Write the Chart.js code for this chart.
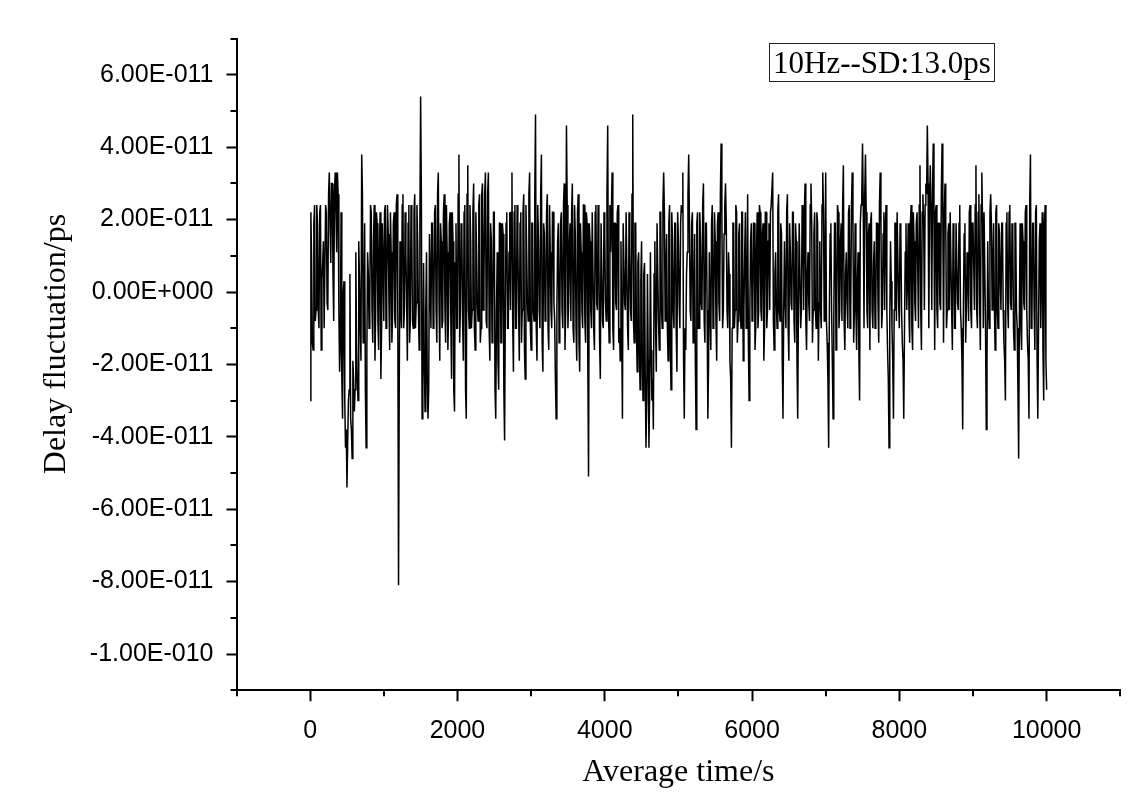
<!DOCTYPE html>
<html lang="en">
  <head>
    <meta charset="UTF-8" />
    <title>Delay fluctuation</title>
    <script src="https://cdn.jsdelivr.net/npm/chart.js@4.4.1/dist/chart.umd.min.js"></script>
    <style>
      body { margin: 0; background: #fff; }
      #chart { display: block; }
    </style>
  </head>
  <body>
    <canvas id="chart" width="1138" height="794"></canvas>

    <script>
      // samples every 10 s, values in ps (axis shows them in seconds)
      // delayPsA: t = 0, 20, 40 ... 10000   delayPsB: t = 10, 30, 50 ... 9990
      const sampleStep = 20;
      const delayPsA = [
        -30, 8, -16, 24, -5, 19, -10, 24, 3, 14,
        -10, 22, -5, 33, 8, 30, -8, 33, 11, 27,
        -22, 22, -35, 3, -43, -54, -30, 5, -38, -19,
        -33, 11, -24, 14, -10, 38, -14, 19, -43, 11,
        -10, 24, -5, 14, -19, 22, -8, 11, -24, 19,
        -8, 24, 3, 16, -16, 11, -5, 22, -10, 27,
        -81, 14, -10, 27, -5, 11, -19, 24, -8, 16,
        -10, 27, -3, 14, -16, 54, -35, 8, -33, 11,
        -35, 16, -10, 19, -5, 24, -14, 33, -19, 14,
        -8, 27, -14, 11, -5, 22, -24, 14, -33, 19,
        -10, 38, -5, 16, -19, 24, -35, 35, -10, 14,
        -5, 30, -16, 11, -8, 27, -10, 30, 3, 33,
        -10, 33, -19, 14, -5, 22, -35, 11, -27, 19,
        -14, 16, -41, 19, -10, 11, -5, 33, -22, 24,
        -10, 14, -19, 22, -5, 27, -24, 11, -8, 33,
        -16, 19, -8, 49, -19, 14, -10, 38, -22, 16,
        -5, 27, -16, 11, -10, 22, -8, -35, 14, -14,
        19, -5, 24, -16, 46, -10, 14, -8, 30, -14,
        16, -19, 27, -22, 11, -10, 24, -14, 19, -51,
        14, -10, 22, -16, 24, -5, 11, -24, 19, -10,
        16, -8, 46, -14, 11, 33, -16, 19, -5, 24,
        -10, 14, -35, 19, -5, 22, -16, 11, -8, 49,
        -14, 19, -22, 11, -27, 14, -30, 8, -43, 5,
        -43, 11, -30, -38, 14, -22, 19, -16, 22, -10,
        33, -8, 16, -19, 24, -27, 14, -10, 19, -22,
        14, -10, 24, 33, -35, -16, 11, 38, -5, 19,
        -14, 16, -38, 22, -10, 14, -5, 30, -14, 19,
        -35, 11, -16, 24, -5, 14, -19, 22, -8, 41,
        -10, 16, 30, -5, 11, -19, -43, 19, -10, 24,
        -14, 16, -5, 22, -19, 11, -10, 27, -30, 14,
        -8, 19, -16, 11, -10, 24, -5, 16, -19, 22,
        -10, 14, -5, 24, 33, -16, 11, -10, 27, -8,
        16, -35, 14, -10, 27, -19, 11, -5, 22, -14,
        14, -35, 19, -10, 24, -5, 30, -16, 11, -8,
        30, -14, 16, -5, 22, -19, 14, -10, 33, -8,
        33, -14, -43, 16, -5, -35, 19, -16, 24, -10,
        14, -8, 35, -16, 11, -10, 24, -5, 33, -14,
        19, -16, 11, -30, 24, 41, -10, 38, -5, 16,
        -16, 22, -10, 14, -5, 19, -14, 33, -10, 16,
        -5, 24, -16, -43, 14, -10, -35, 19, -8, 22,
        -10, 16, -14, -35, 11, -5, 19, -14, 24, -16,
        14, -8, 22, -10, 35, -16, 27, -5, 30, 46,
        -10, 35, -5, 41, -16, 24, -10, 19, -5, 41,
        -14, 30, -10, 16, -5, 22, -16, 14, -10, 19,
        -5, 24, -10, -38, 16, -14, 11, -8, 24, -10,
        19, -5, 35, -10, 27, -16, 33, -10, 22, -38,
        14, -10, 27, -5, 19, -16, 24, -10, 16, -5,
        19, -14, -30, 22, -10, 24, -5, 16, -16, 19,
        -10, -46, 19, -16, 14, -5, 24, -14, -35, 38,
        -8, 19, -16, 24, -35, 14, -10, 22, -30, 24,
        -27
      ];
      const delayPsB = [
        22, -14, 19, -8, 24, -5, 22, -16, 8, -10,
        24, -3, 27, 19, 30, 5, 27, 22, 33, -5,
        -14, -24, 0, -30, -38, -41, -27, -35, -46, -24,
        -27, -14, -30, 3, -19, 27, -8, -27, -16, 5,
        -3, 22, -14, 24, -5, 19, -16, 22, -10, 8,
        22, -10, 24, -3, 22, -14, 19, -8, 24, -5,
        -24, -5, 24, -10, 22, -3, 19, -14, 24, -8,
        22, -10, 24, -5, 19, 27, -27, -19, -5, -24,
        -27, 3, 19, -10, 22, -5, 27, -3, 19, -10,
        22, -5, 24, -16, 19, -8, 22, -27, 8, -10,
        27, -14, 19, -8, 22, -27, 27, -5, 24, -10,
        22, -10, 22, -3, 24, -14, 27, -5, 27, -8,
        27, -10, 19, -14, 22, -27, -5, -19, 19, -14,
        19, -27, -5, 22, -10, 22, 22, -8, 22, -10,
        24, -5, 19, -14, 22, -16, 24, -3, 27, -10,
        19, -5, 27, -10, 24, -5, 27, -14, 19, -8,
        22, -10, 24, -5, 22, -3, -24, -5, 19, -8,
        22, -10, 30, -5, 24, -3, 19, 22, -10, 24,
        -10, 22, -14, 19, -5, 24, -8, 22, -19, 19,
        -5, 22, -10, 22, -3, 24, -14, 19, -8, 22,
        -3, 27, -5, 24, 22, -10, 19, -3, 22, -14,
        -19, -10, 19, -3, 22, -10, 22, -5, 27, -8,
        19, -10, 8, -16, 3, -19, 5, -24, -30, -19,
        -27, -16, -24, 5, -10, 19, -8, 22, -5, 24,
        22, 5, -10, 19, -14, 22, -5, 19, -10, 22,
        -3, 19, 22, -19, -10, 5, 27, 19, -8, 22,
        -5, -19, 19, -10, 22, -3, 24, -8, 19, -5,
        -19, -5, 19, -10, 22, -8, 19, -3, 27, 22,
        -5, 24, 19, -10, 5, -24, -10, 19, -5, 22,
        -8, 19, -10, 22, -5, 22, -3, -14, -5, 19,
        -3, 19, -10, 22, -5, 22, -8, 19, -10, 22,
        -5, 19, 22, 24, -8, 5, -3, 22, -5, 19,
        -19, -5, -3, 22, -10, 19, -3, 22, -8, 19,
        -19, -3, 19, -5, 22, 22, -8, 5, -3, 24,
        19, -5, 22, -10, 19, -3, -5, 24, 22, 8,
        -8, -24, -5, 19, -19, -8, 19, -3, 22, -5,
        19, 24, -8, 5, -3, 22, -10, 24, 19, -5,
        -5, 3, -16, 19, 27, 24, 27, 22, -10, 19,
        19, -5, 8, -10, 19, -3, 24, 19, -5, 22,
        19, -5, -24, -8, 3, -19, -5, 19, 22, -3,
        19, -5, -19, -10, 19, 3, -5, 19, -10, 22,
        -3, 19, 22, 24, -5, 22, 19, 24, 27, 30,
        24, 22, 27, 19, 22, -5, 19, -3, 27, 22,
        22, 19, -5, 19, 22, -5, 19, -10, 19, -3,
        19, -5, -19, -3, 19, -5, 5, 22, -5, 19,
        19, 24, -5, 22, -3, 24, 19, 22, -10, -19,
        -5, 22, 19, 8, -3, 22, -5, 19, 3, 19,
        -5, -19, 19, -3, 22, -3, 19, -10, 19, -5,
        -27, -5, -10, 19, -3, 22, -5, -19, 24, -10,
        19, -5, 22, -19, -10, 19, 5, -16, 19, -19
      ];

      const xMajorTicks = [0, 2000, 4000, 6000, 8000, 10000];
      const xMinorTicks = [-1000, 1000, 3000, 5000, 7000, 9000, 11000];
      const yMajorTicks = [-100, -80, -60, -40, -20, 0, 20, 40, 60];
      const yMinorTicks = [-110, -90, -70, -50, -30, -10, 10, 30, 50, 70];

      const xTitle = 'Average time/s';
      const yTitle = 'Delay fluctuation/ps';
      const noteText = '10Hz--SD:13.0ps';

      const sansFont = '"Liberation Sans", Arial, sans-serif';
      const serifFont = '"Liberation Serif", "Times New Roman", serif';

      // interleave the two sample sets in time order
      const points = [];
      delayPsA.forEach((v, i) => {
        points.push({ x: i * sampleStep, y: v });
        if (i < delayPsB.length) {
          points.push({ x: i * sampleStep + sampleStep / 2, y: delayPsB[i] });
        }
      });

      // Origin style label: 2.00E-011
      function sciLabel(ps) {
        if (ps === 0) return '0.00E+000';
        const p = Math.floor(Math.log10(Math.abs(ps)));
        const mant = ps / Math.pow(10, p);
        const exp = p - 12;
        const expStr = (exp < 0 ? '-' : '+') + String(Math.abs(exp)).padStart(3, '0');
        return mant.toFixed(2) + 'E' + expStr;
      }

      // short minor ticks, the text box and the axis titles
      const extras = {
        id: 'extras',
        afterDraw(chart) {
          const ctx = chart.ctx;
          const area = chart.chartArea;
          const xs = chart.scales.x;
          const ys = chart.scales.y;
          ctx.save();
          ctx.strokeStyle = '#000';
          ctx.lineWidth = 2;
          ctx.beginPath();
          xMinorTicks.forEach(v => {
            const px = Math.round(xs.getPixelForValue(v));
            ctx.moveTo(px, area.bottom);
            ctx.lineTo(px, area.bottom + 6);
          });
          yMinorTicks.forEach(v => {
            const py = Math.round(ys.getPixelForValue(v));
            ctx.moveTo(area.left, py);
            ctx.lineTo(area.left - 6, py);
          });
          ctx.stroke();

          // note box
          ctx.fillStyle = '#fff';
          ctx.fillRect(769.5, 43.5, 225, 38);
          ctx.lineWidth = 1;
          ctx.strokeStyle = '#222';
          ctx.strokeRect(769.5, 43.5, 225, 38);
          ctx.fillStyle = '#000';
          ctx.font = '31px ' + serifFont;
          ctx.textAlign = 'center';
          ctx.textBaseline = 'alphabetic';
          ctx.fillText(noteText, 882, 73);

          // axis titles
          ctx.font = '32px ' + serifFont;
          ctx.fillText(xTitle, (area.left + area.right) / 2, 781);
          ctx.translate(65, 344);
          ctx.rotate(-Math.PI / 2);
          ctx.fillText(yTitle, 0, 0);
          ctx.restore();
        }
      };

      const ctx = document.getElementById('chart').getContext('2d');
      const chart = new Chart(ctx, {
        type: 'line',
        data: {
          datasets: [{
            data: points,
            borderColor: '#000',
            borderWidth: 1.5,
            pointRadius: 0,
            tension: 0,
            fill: false
          }]
        },
        options: {
          responsive: false,
          devicePixelRatio: 1,
          animation: false,
          layout: { padding: { top: 38.6, right: 17.7, left: 0, bottom: 0 } },
          plugins: {
            legend: { display: false },
            tooltip: { enabled: false }
          },
          scales: {
            x: {
              type: 'linear',
              min: -1000,
              max: 11000,
              afterFit: s => { s.height = 103.8; },
              afterBuildTicks: s => { s.ticks = xMajorTicks.map(v => ({ value: v })); },
              border: { display: true, color: '#000', width: 2 },
              grid: { drawOnChartArea: false, tickLength: 11, tickWidth: 2, tickColor: '#000' },
              ticks: {
                maxRotation: 0,
                autoSkip: false,
                padding: 15,
                color: '#000',
                font: { family: sansFont, size: 25 },
                callback: v => String(v)
              }
            },
            y: {
              type: 'linear',
              min: -110,
              max: 70,
              afterFit: s => { s.width = 236.5; },
              afterBuildTicks: s => { s.ticks = yMajorTicks.map(v => ({ value: v })); },
              border: { display: true, color: '#000', width: 2 },
              grid: { drawOnChartArea: false, tickLength: 10, tickWidth: 2, tickColor: '#000' },
              ticks: {
                autoSkip: false,
                padding: 13,
                color: '#000',
                font: { family: sansFont, size: 25 },
                callback: v => sciLabel(v)
              }
            }
          }
        },
        plugins: [extras]
      });
    </script>
  </body>
</html>
